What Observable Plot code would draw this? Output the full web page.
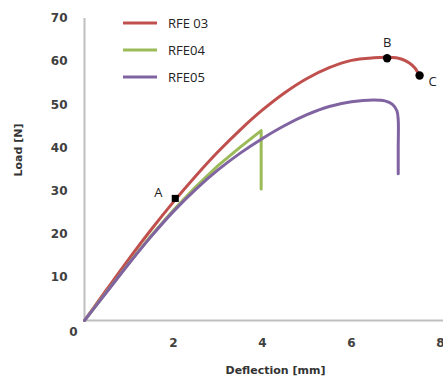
<!DOCTYPE html>
<html>
<head>
<meta charset="utf-8">
<script src="https://cdn.jsdelivr.net/npm/d3@7"></script>
<script src="https://cdn.jsdelivr.net/npm/@observablehq/plot@0.6"></script>
<style>
  html, body { margin: 0; padding: 0; background: #fff; }
  #wrap { position: relative; width: 443px; height: 381px; }
  #legend { position: absolute; left: 123px; top: 10px; font-family: "Open Sans", sans-serif; font-size: 13px; color: #222; }
  .item { position: absolute; left: 0; height: 26px; width: 120px; white-space: nowrap; }
  .item svg { position: absolute; left: 0; top: 0; }
  .item span { position: absolute; left: 45px; top: 4px; line-height: 18px; }
</style>
</head>
<body>
<div id="wrap"></div>
<script>
// Data
const seriesNames = ["RFE 03", "RFE04", "RFE05"];
const seriesColors = ["#c0504d", "#9bbb59", "#8064a2"];

const rfe03X = [0, 0.5, 1.0, 1.5, 2.0, 2.5, 3.0, 3.5, 4.0, 4.5, 5.0, 5.5, 6.0, 6.5, 6.8, 7.0, 7.15, 7.3, 7.42, 7.53];
const rfe03Y = [0, 7.2, 14.3, 21.1, 27.5, 33.5, 39.1, 44.2, 48.8, 52.8, 56.1, 58.6, 60.3, 60.9, 61.0, 60.9, 60.5, 59.7, 58.6, 56.8];

const rfe04X = [0, 0.5, 1.0, 1.5, 2.0, 2.5, 3.0, 3.5, 3.97, 3.97];
const rfe04Y = [0, 6.7, 13.3, 19.7, 25.6, 31.0, 35.9, 40.2, 44.0, 30.5];

const rfe05X = [0, 0.5, 1.0, 1.5, 2.0, 2.5, 3.0, 3.5, 4.0, 4.5, 5.0, 5.5, 6.0, 6.5, 6.75, 6.92, 7.02, 7.05, 7.05, 7.05];
const rfe05Y = [0, 6.6, 13.2, 19.5, 25.3, 30.4, 34.9, 38.8, 42.2, 45.2, 47.7, 49.6, 50.7, 51.1, 50.9, 50.1, 48.6, 46.5, 40.0, 34.0];

const pointLabels = ["A", "B", "C"];
const pointX = [2.04, 6.80, 7.53];
const pointY = [28.3, 60.8, 56.8];

const yTicks = [10, 20, 30, 40, 50, 60, 70];
const xTicks = [2, 4, 6, 8];

const toRows = (xs, ys) => xs.map((x, i) => ({x, y: ys[i]}));
const r03 = toRows(rfe03X, rfe03Y);
const r04 = toRows(rfe04X, rfe04Y);
const r05 = toRows(rfe05X, rfe05Y);
const pts = pointLabels.map((l, i) => ({label: l, x: pointX[i], y: pointY[i]}));

const tickFont = {fontFamily: "DejaVu Sans", fontSize: 12, fontWeight: "bold", fill: "#404040"};
const labelFont = {fontFamily: "Open Sans", fontSize: 13, fill: "#222"};

const chart = Plot.plot({
  width: 443,
  height: 381,
  marginLeft: 84,
  marginRight: 3,
  marginTop: 18,
  marginBottom: 61,
  x: {domain: [0, 8]},
  y: {domain: [0, 70]},
  style: {background: "#fff", overflow: "visible"},
  marks: [
    Plot.axisY({ticks: yTicks, tickSize: 0, tickPadding: 17, label: null, ...tickFont}),
    Plot.axisX({ticks: xTicks, tickSize: 0, tickPadding: 18, label: null, ...tickFont}),
    Plot.text([0], {x: 0, y: 0, text: () => "0", dx: -11, dy: 12, ...tickFont}),
    Plot.ruleX([0], {y1: 0, y2: 70, stroke: "#bfbfbf", strokeWidth: 2}),
    Plot.ruleY([0], {x1: 0, x2: 8, stroke: "#bfbfbf", strokeWidth: 2, insetRight: -3}),
    Plot.line(r03, {x: "x", y: "y", stroke: seriesColors[0], strokeWidth: 3, curve: "catmull-rom"}),
    Plot.line(r04, {x: "x", y: "y", stroke: seriesColors[1], strokeWidth: 3, curve: "linear"}),
    Plot.line(r05, {x: "x", y: "y", stroke: seriesColors[2], strokeWidth: 3, curve: "catmull-rom"}),
    Plot.dot(pts.slice(0, 1), {x: "x", y: "y", symbol: "square", r: 4, fill: "#000"}),
    Plot.dot(pts.slice(1), {x: "x", y: "y", symbol: "circle", r: 4.2, fill: "#000"}),
    Plot.text(pts.filter(d => d.label === "A"), {x: "x", y: "y", text: "label", dx: -17, dy: -6, ...labelFont}),
    Plot.text(pts.filter(d => d.label === "B"), {x: "x", y: "y", text: "label", dx: 0, dy: -15, ...labelFont}),
    Plot.text(pts.filter(d => d.label === "C"), {x: "x", y: "y", text: "label", dx: 13, dy: 6, ...labelFont}),
    Plot.text(["Deflection [mm]"], {frameAnchor: "bottom", dx: 13, dy: 53,
      fontFamily: "DejaVu Sans", fontSize: 11, fontWeight: "bold", fill: "#333"}),
    Plot.text(["Load [N]"], {frameAnchor: "left", dx: -66, dy: 7, rotate: -90,
      fontFamily: "DejaVu Sans", fontSize: 11, fontWeight: "bold", fill: "#333"})
  ]
});

const wrap = document.getElementById("wrap");
wrap.appendChild(chart);

const legend = document.createElement("div");
legend.id = "legend";
seriesNames.forEach((name, i) => {
  const item = document.createElement("div");
  item.className = "item";
  item.style.top = (i * 27) + "px";
  item.innerHTML = `<svg width="36" height="26"><line x1="0" x2="34" y1="13" y2="13" stroke="${seriesColors[i]}" stroke-width="3"/></svg><span>${name}</span>`;
  legend.appendChild(item);
});
wrap.appendChild(legend);
</script>
</body>
</html>
